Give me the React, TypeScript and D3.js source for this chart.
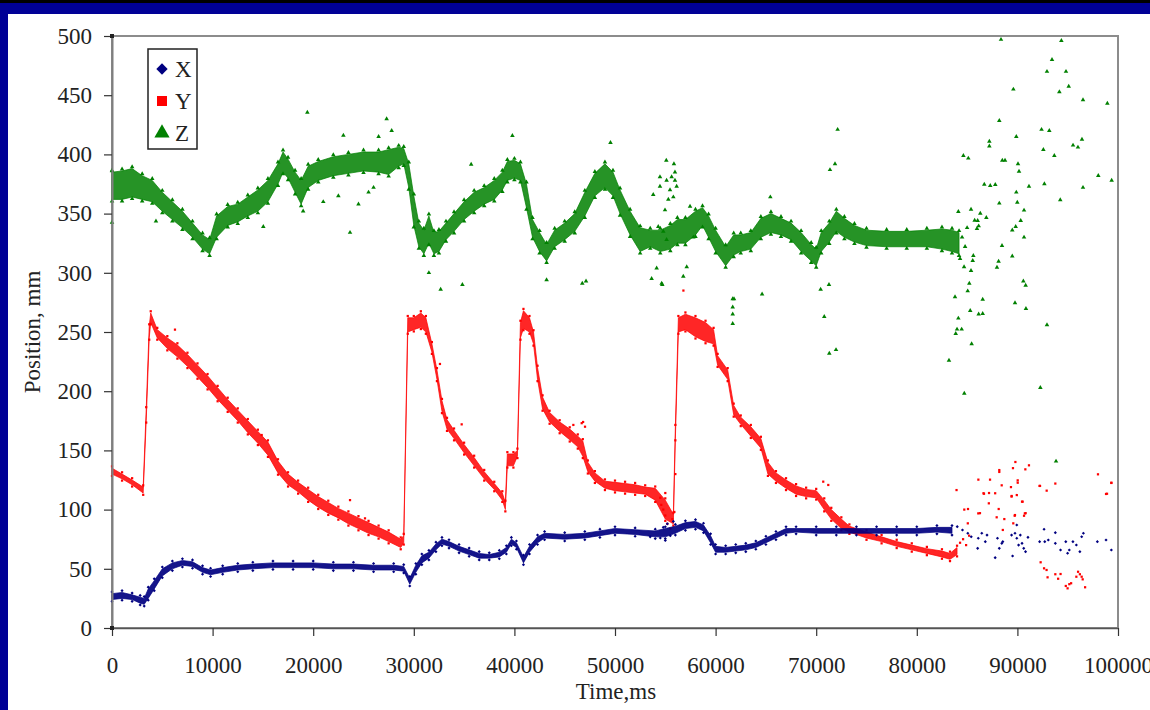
import { useEffect, useRef } from 'react';
import * as d3 from 'd3';

// time ticks (ms) and position ticks (mm)
const timeTicks = [0, 10000, 20000, 30000, 40000, 50000, 60000, 70000, 80000, 90000, 100000];
const posTicks = [0, 50, 100, 150, 200, 250, 300, 350, 400, 450, 500];

const xBand = [
  [0, 24, 29], [1000, 25, 30], [2000, 24, 28], [2800, 21, 26], [3200, 20, 25], [3600, 25, 33],
  [4200, 33, 40], [5000, 44, 50], [6000, 50, 55], [7000, 53, 57], [8000, 52, 56], [9000, 47, 51],
  [9800, 45, 49], [11000, 47, 51], [12500, 49, 53], [14000, 50, 54], [16000, 51, 55], [18000, 51, 55],
  [20000, 51, 55], [22000, 50, 54], [24000, 50, 54], [26000, 49, 53], [28000, 49, 53], [29000, 48, 52],
  [29600, 37, 42], [30200, 47, 53], [30800, 55, 61], [31500, 59, 64], [32200, 66, 71], [32800, 71, 75],
  [33500, 69, 73], [34500, 65, 69], [35500, 62, 66], [36500, 59, 63], [37500, 59, 62], [38500, 60, 64],
  [39200, 64, 68], [39700, 71, 75], [40200, 68, 72], [40900, 55, 60], [41500, 64, 69], [42300, 72, 77],
  [43000, 76, 80], [45000, 75, 79], [47000, 76, 80], [48500, 78, 82], [50000, 80, 84], [52000, 79, 83],
  [54000, 77, 82], [55000, 77, 84], [56000, 80, 86], [57000, 84, 89], [58000, 85, 90], [58800, 82, 87],
  [59500, 72, 78], [60000, 64, 69], [61000, 64, 68], [62000, 65, 69], [63000, 66, 70], [64000, 68, 72],
  [65000, 72, 76], [66000, 76, 80], [67000, 80, 84], [68000, 81, 84], [70000, 80, 84], [72000, 80, 84],
  [74000, 80, 84], [76000, 80, 84], [78000, 80, 84], [80000, 80, 84], [82000, 81, 85], [83500, 80, 85],
];

const yBand = [
  [0, 130, 135], [1000, 126, 130], [2000, 121, 125], [3100, 114, 119], [3400, 175, 185], [3700, 245, 255],
  [3850, 258, 266], [4500, 245, 252], [5500, 236, 245], [6500, 229, 239], [7500, 221, 231], [8500, 212, 222],
  [9500, 203, 213], [10500, 193, 203], [11500, 184, 193], [12500, 175, 184], [13500, 165, 175],
  [14500, 156, 166], [15500, 146, 157], [16500, 131, 141], [17500, 121, 130], [18500, 115, 123],
  [19500, 108, 117], [20500, 102, 111], [21500, 97, 106], [22500, 93, 101], [23500, 88, 97], [24500, 84, 93],
  [25500, 80, 89], [26500, 77, 85], [27500, 73, 81], [28700, 68, 75], [29000, 72, 78], [29400, 250, 262],
  [30000, 252, 262], [30700, 254, 266], [31200, 250, 262], [31800, 233, 240], [32300, 210, 218],
  [32800, 183, 192], [33300, 168, 176], [34000, 160, 167], [35000, 148, 155], [36000, 137, 144],
  [37000, 126, 132], [38000, 117, 122], [38800, 108, 114], [39100, 100, 106], [39300, 137, 147],
  [39900, 137, 147], [40300, 145, 150], [40600, 245, 258], [40900, 253, 268], [41500, 250, 262],
  [41900, 240, 250], [42300, 210, 220], [42800, 185, 195], [43500, 174, 182], [44500, 166, 174],
  [45500, 159, 168], [46300, 153, 162], [46800, 145, 158], [47300, 132, 140], [48000, 124, 131],
  [49000, 118, 124], [50000, 116, 123], [51000, 115, 122], [52000, 114, 121], [53000, 113, 119],
  [54000, 108, 118], [55000, 92, 108], [55800, 88, 96], [56000, 160, 170], [56300, 250, 262],
  [57000, 252, 265], [58000, 246, 262], [59000, 242, 258], [59800, 240, 252], [60200, 222, 230],
  [61200, 210, 218], [61800, 180, 188], [62500, 172, 178], [63500, 162, 170], [64500, 152, 160],
  [65200, 130, 140], [66000, 124, 131], [67000, 118, 125], [68000, 113, 120], [69000, 111, 117],
  [70000, 110, 116], [70800, 100, 108], [71500, 92, 100], [72500, 84, 92], [73300, 81, 86],
  [75000, 76, 81], [76500, 73, 77], [78000, 69, 73], [79500, 66, 70], [81000, 63, 67], [82500, 60, 65],
  [83300, 58, 63], [84000, 62, 68],
];

const zBand = [
  [0, 362, 385], [1000, 362, 386], [2000, 364, 388], [3000, 362, 382], [4000, 360, 378], [5000, 352, 368],
  [6000, 345, 360], [7000, 338, 352], [8000, 330, 342], [9000, 320, 332], [9700, 316, 328], [10400, 330, 348],
  [11500, 340, 356], [12500, 343, 358], [13500, 348, 364], [14500, 352, 370], [15500, 360, 378],
  [16500, 375, 392], [17000, 385, 402], [17500, 380, 396], [18200, 368, 385], [18800, 358, 378],
  [19500, 372, 390], [20500, 378, 394], [22000, 382, 398], [23500, 384, 400], [25000, 386, 402],
  [26500, 385, 402], [27500, 383, 404], [28500, 390, 406], [29000, 392, 405], [29500, 372, 392],
  [30000, 340, 365], [30500, 322, 342], [31000, 316, 336], [31500, 325, 348], [32000, 316, 334],
  [32500, 318, 335], [33200, 328, 342], [34000, 335, 350], [35000, 345, 360], [36000, 352, 368],
  [37000, 358, 372], [38000, 362, 378], [38800, 370, 385], [39300, 378, 394], [40000, 380, 395],
  [40600, 378, 392], [41200, 355, 375], [41800, 330, 345], [42500, 318, 334], [43200, 310, 324],
  [44000, 322, 336], [45000, 328, 342], [46000, 335, 350], [47000, 348, 368], [48000, 365, 384],
  [49000, 372, 392], [49800, 365, 385], [50500, 350, 370], [51500, 332, 352], [52500, 318, 338],
  [53500, 322, 336], [54500, 318, 336], [55500, 320, 340], [56200, 325, 345], [57000, 325, 345],
  [58000, 332, 352], [58700, 340, 355], [59300, 330, 348], [60000, 318, 336], [61000, 306, 322],
  [61800, 315, 332], [62500, 318, 332], [63500, 320, 334], [64500, 330, 346], [65500, 334, 350],
  [66500, 332, 346], [67500, 328, 342], [68500, 318, 334], [69500, 310, 324], [70000, 306, 320],
  [70500, 318, 334], [71300, 326, 342], [72000, 335, 352], [72800, 330, 346], [73800, 326, 340],
  [75000, 323, 336], [77000, 322, 335], [79000, 322, 335], [81000, 322, 336], [82500, 320, 337],
  [83500, 318, 336], [84200, 316, 334],
];

// stray readings as [time, value]
const xStray = [
  [53500, 77], [54500, 76], [54800, 85], [55000, 74], [55200, 88], [55500, 78], [55800, 90],
  [84020, 85.6], [84540, 82.8], [85070, 80], [85410, 77.1], [86110, 75.8], [86460, 80], [86810, 72.9],
  [86980, 78.5], [86050, 67.3], [87790, 59.4], [88200, 67.3], [88450, 71.5], [88020, 75.8], [88550, 72.9],
  [89420, 78.5], [89760, 80], [89940, 75.8], [90290, 78.5], [90460, 71.5], [90120, 70], [90810, 64.5],
  [91050, 76.6], [89520, 60.8], [90630, 67.3], [89940, 87], [92210, 72.9], [92720, 72.9], [93070, 74.3],
  [93770, 71.5], [94290, 65.9], [94810, 72.9], [95160, 65.9], [95520, 72.9], [95860, 70.1], [96390, 77.1],
  [96560, 80], [97950, 72.9], [98810, 74.3], [99340, 65.9], [92650, 83.4], [93770, 80.5], [94990, 63.1],
  [96210, 64.5],
];

const yStray = [
  [6260, 252], [14880, 163], [23660, 108], [25150, 92.6], [32600, 223], [34760, 172],
  [45860, 171.5], [46690, 173], [46830, 174], [47020, 170], [54500, 110], [54600, 104], [54800, 100],
  [55000, 95], [55000, 114], [55200, 88], [55500, 84], [55700, 92], [55900, 98], [56000, 130],
  [56800, 285], [70700, 123.6], [71200, 120.8],
  [83950, 116.5], [84720, 100], [85070, 88.4], [86110, 96.8], [87160, 105.3], [87790, 113.8],
  [86630, 113.8], [89420, 111], [89940, 112.3], [90460, 106.7], [90740, 96.8], [89760, 95.4],
  [89590, 88.4], [88550, 82.8], [92200, 120], [93770, 122], [92310, 55.5], [92650, 50.4], [93000, 42.8],
  [92900, 49], [93770, 45.4], [94050, 41.6], [94290, 45.6], [94990, 33.5], [95160, 37], [94810, 35.5],
  [95340, 37.8], [96030, 47.5], [96210, 45.4], [96390, 43.3], [96490, 41.1], [96730, 34.4], [95860, 43.3],
  [98810, 113.2], [99340, 122.7], [89800, 140.2], [88200, 133.4], [88200, 131.8], [89560, 135],
  [91150, 137.4], [90790, 134], [86120, 125.3], [87280, 125.3], [90030, 124.7], [90030, 122.7],
  [98010, 129.8], [99340, 122.5], [88440, 120.5], [89360, 119], [92250, 120], [92910, 116],
  [98910, 113.4], [86680, 113.4], [87180, 114], [85090, 100.5], [86280, 97], [88140, 100.5],
  [90820, 97], [90660, 94.8], [87940, 93.5], [88700, 92], [89730, 94.8], [89430, 111.5], [90520, 106.7],
  [84300, 72], [84600, 75], [84900, 70], [85200, 78],
];

const zStray = [
  [0, 386], [0, 342.6], [4370, 343.7], [15040, 339], [19000, 352], [19420, 435.5], [21000, 360],
  [22500, 365], [23000, 416], [23660, 334], [24500, 358], [25500, 368], [26000, 372], [26500, 415],
  [27300, 430], [27800, 420], [31500, 300], [32670, 286], [34830, 290], [35700, 391.6], [39800, 415.8],
  [43200, 294], [46750, 291], [47120, 293], [49550, 410], [53640, 295], [53800, 366], [54140, 304],
  [54300, 339], [54470, 381], [54470, 373], [54640, 291], [54700, 290], [54800, 335], [54970, 353],
  [55100, 395], [55130, 378], [55130, 328], [55300, 362], [55470, 370], [55630, 381], [55800, 364],
  [55860, 392], [55960, 378], [55960, 385], [56130, 373], [56790, 297], [57130, 305], [57460, 356],
  [57790, 330], [61700, 257], [61700, 265], [61700, 271], [61700, 278], [61830, 278], [64620, 282],
  [65440, 364], [70440, 286], [70800, 263], [71270, 290], [71300, 232], [71370, 387], [71870, 392],
  [71970, 235], [72130, 421],
  [88370, 497], [94370, 496], [93440, 480], [92940, 470], [94830, 470], [89600, 455], [95100, 457.5],
  [94170, 452.7], [96520, 446], [98940, 443], [88200, 428.5], [92400, 421], [93170, 420], [89890, 415],
  [96420, 412.7], [87210, 411], [87210, 407], [95530, 407.7], [96020, 406], [84630, 399], [85120, 396.7],
  [92580, 404], [93670, 399], [88500, 395], [88770, 395], [90060, 392], [90160, 385.7], [98040, 382],
  [99370, 378], [86710, 374.7], [87300, 373.6], [87800, 374.4], [91150, 373], [92680, 375], [96520, 372],
  [94260, 361.5], [89890, 368], [88200, 358.7], [89990, 359.5], [90660, 352.8], [90330, 344],
  [89490, 336], [89830, 339], [90660, 330], [88470, 323], [89490, 314], [88130, 309.7], [87970, 304.6],
  [90590, 293], [90820, 289.4], [89760, 274.5], [90850, 269.7], [92940, 256], [92280, 203], [93840, 140.8],
  [85390, 353.6], [86310, 350.2], [86910, 346.5], [84130, 351.6], [86050, 344], [85750, 344.3],
  [86150, 339.5], [85980, 337.2], [85620, 314.4], [85560, 310.2], [85390, 301.8], [85220, 291],
  [85060, 284.6], [83800, 279.6], [86550, 277.6], [85310, 268], [86150, 265], [86550, 265.5],
  [84130, 261.6], [84000, 252.3], [84460, 252.3], [83870, 248.6], [85450, 239.9], [83200, 226],
  [84720, 198.2], [84500, 330], [84800, 322], [85000, 338], [84300, 312], [84700, 305],
];

const seriesNames = ['X', 'Y', 'Z'];
const seriesColors = ['#000080', '#ff0000', '#008000'];

const FONT = "'Times New Roman', 'Liberation Serif', serif";

const App = () => {
  const ref = useRef<SVGSVGElement>(null);

  useEffect(() => {
    const svg = d3.select(ref.current);
    svg.selectAll('*').remove();

    const W = 1150, H = 710;

    // slide frame
    svg.append('rect').attr('width', W).attr('height', H).attr('fill', '#000096');
    svg.append('rect').attr('width', W).attr('height', 3).attr('fill', '#000000');
    svg.append('rect').attr('x', 8).attr('y', 14).attr('width', W - 8).attr('height', H - 14).attr('fill', '#ffffff');

    const x = d3.scaleLinear().domain([0, 100000]).range([112, 1118]);
    const y = d3.scaleLinear().domain([0, 500]).range([628, 36]);

    // plot frame
    svg.append('rect')
      .attr('x', x(0)).attr('y', y(500))
      .attr('width', x(100000) - x(0)).attr('height', y(0) - y(500))
      .attr('fill', 'none').attr('stroke', '#8c8c8c').attr('stroke-width', 2);

    const bands = [xBand, yBand, zBand];
    const strays = [xStray, yStray, zStray];
    // X uses a square turned 45deg as diamond
    const symbols = [d3.symbolSquare, d3.symbolSquare, d3.symbolTriangle];
    const turn = (i: number) => (i === 0 ? ' rotate(45)' : '');
    const bandOpacity = [0.92, 0.85, 0.85];

    // draw Z first, then Y, then X on top
    [2, 1, 0].forEach(i => {
      const area = d3.area<number[]>()
        .x(d => x(d[0]))
        .y0(d => y(d[1]))
        .y1(d => y(d[2]));
      svg.append('path')
        .datum(bands[i])
        .attr('d', area)
        .attr('fill', seriesColors[i])
        .attr('fill-opacity', bandOpacity[i])
        .attr('stroke', seriesColors[i])
        .attr('stroke-opacity', 0.7)
        .attr('stroke-width', 1)
        .attr('stroke-linejoin', 'round');

      const sym = d3.symbol().type(symbols[i]).size(i === 2 ? 9 : 5);

      // speckle along the edges of the dense band
      const edges = bands[i].flatMap(d => [[d[0], d[1] - 1.5], [d[0], d[2] + 1.5]]);
      svg.append('g')
        .selectAll('path')
        .data(edges)
        .join('path')
        .attr('transform', d => `translate(${x(d[0])},${y(d[1])})${turn(i)}`)
        .attr('d', sym)
        .attr('fill', seriesColors[i]);

      svg.append('g')
        .selectAll('path')
        .data(strays[i])
        .join('path')
        .attr('transform', d => `translate(${x(d[0])},${y(d[1])})${turn(i)}`)
        .attr('d', sym)
        .attr('fill', seriesColors[i]);
    });

    // axes
    const yAxis = svg.append('g')
      .attr('transform', `translate(${x(0)},0)`)
      .call(d3.axisLeft(y).tickValues(posTicks).tickSize(8).tickSizeOuter(0).tickPadding(12));
    yAxis.select('.domain').attr('stroke', '#7f7f7f').attr('stroke-width', 2);
    yAxis.selectAll('.tick line').attr('stroke', '#333').attr('stroke-width', 1.2);
    yAxis.selectAll('.tick text').attr('font-family', FONT).attr('font-size', 23).attr('fill', '#222');

    const xAxis = svg.append('g')
      .attr('transform', `translate(0,${y(0)})`)
      .call(d3.axisBottom(x).tickValues(timeTicks).tickSize(8).tickSizeOuter(0).tickPadding(21).tickFormat(d3.format('d')));
    xAxis.select('.domain').attr('stroke', '#555').attr('stroke-width', 1.5);
    xAxis.selectAll('.tick line').attr('stroke', '#333').attr('stroke-width', 1.2);
    xAxis.selectAll('.tick text').attr('font-family', FONT).attr('font-size', 23).attr('fill', '#222');

    // little corner markers on the axis
    [[0, 0], [0, 500]].forEach(p => {
      svg.append('rect')
        .attr('x', x(p[0]) - 2).attr('y', y(p[1]) - 2)
        .attr('width', 4).attr('height', 4).attr('fill', '#222');
    });

    // titles
    svg.append('text')
      .attr('x', (x(0) + x(100000)) / 2 + 1)
      .attr('y', 699)
      .attr('text-anchor', 'middle')
      .attr('font-family', FONT).attr('font-size', 23).attr('fill', '#222')
      .text('Time,ms');

    svg.append('text')
      .attr('transform', `translate(40,${(y(0) + y(500)) / 2}) rotate(-90)`)
      .attr('text-anchor', 'middle')
      .attr('font-family', FONT).attr('font-size', 23).attr('fill', '#222')
      .text('Position, mm');

    // legend
    const lg = svg.append('g');
    lg.append('rect')
      .attr('x', 148).attr('y', 49).attr('width', 49).attr('height', 100)
      .attr('fill', '#fff').attr('stroke', '#222').attr('stroke-width', 1.5);
    seriesNames.forEach((name, i) => {
      const cy = 69 + i * 32;
      lg.append('path')
        .attr('transform', `translate(162,${cy})${turn(i)}`)
        .attr('d', d3.symbol().type(symbols[i]).size(i === 0 ? 64 : 100)())
        .attr('fill', seriesColors[i]);
      lg.append('text')
        .attr('x', 175).attr('y', cy)
        .attr('dy', '0.35em')
        .attr('font-family', FONT).attr('font-size', 23).attr('fill', '#222')
        .text(name);
    });
  }, []);

  return (
    <svg
      ref={ref}
      width={1150}
      height={710}
      style={{ position: 'absolute', left: 0, top: 0, display: 'block' }}
    />
  );
};

export default App;
